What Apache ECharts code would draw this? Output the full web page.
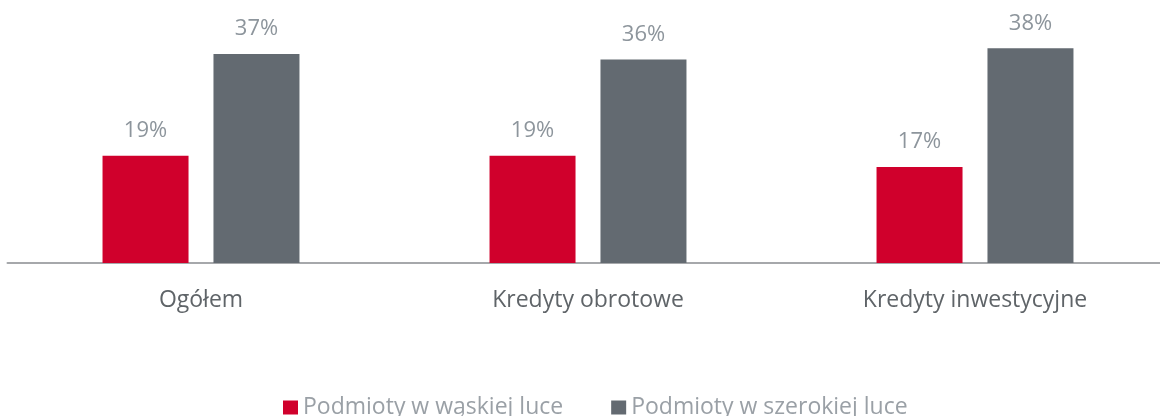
<!DOCTYPE html>
<html><head><meta charset="utf-8">
<script src="https://cdn.jsdelivr.net/npm/echarts@6/dist/echarts.min.js"></script>
<style>html,body{margin:0;padding:0;background:#fff}#c{width:1160px;height:416px}</style>
</head><body><div id="c"></div>
<script>
const categories = ['Ogółem', 'Kredyty obrotowe', 'Kredyty inwestycyjne'];
const seriesNames = ['Podmioty w wąskiej luce', 'Podmioty w szerokiej luce'];
const narrowGap = [19, 19, 17];
const wideGap = [37, 36, 38];
const FONT = 'Open Sans';
const chart = echarts.init(document.getElementById('c'), null, {renderer: 'canvas'});
const labelCfg = {show: true, position: 'top', distance: 14, formatter: '{c}%', color: '#8d959c', fontSize: 22, fontFamily: FONT};
chart.setOption({
  animation: false,
  textStyle: {fontFamily: FONT},
  grid: {left: 7.5, width: 1161, top: 37, bottom: 153, containLabel: false, outerBoundsMode: 'none'},
  legend: {
    left: 278, top: 391, itemWidth: 15, itemHeight: 14, itemGap: 48,
    icon: 'rect',
    textStyle: {color: '#9aa0a6', fontSize: 23, fontFamily: FONT},
    data: seriesNames
  },
  xAxis: {
    type: 'category', data: categories,
    axisLine: {lineStyle: {color: '#a6a8ab', width: 2}},
    axisTick: {show: false},
    axisLabel: {color: '#5f6468', fontSize: 23, fontFamily: FONT, margin: 26}
  },
  yAxis: {type: 'value', min: 0, max: 40, show: false, splitLine: {show: false}},
  series: [
    {name: seriesNames[0], type: 'bar', data: narrowGap, barWidth: 86, barGap: '29%', itemStyle: {color: '#d0002c'}, label: labelCfg},
    {name: seriesNames[1], type: 'bar', data: wideGap, barWidth: 86, itemStyle: {color: '#636a71'}, label: labelCfg}
  ]
});
</script></body></html>
